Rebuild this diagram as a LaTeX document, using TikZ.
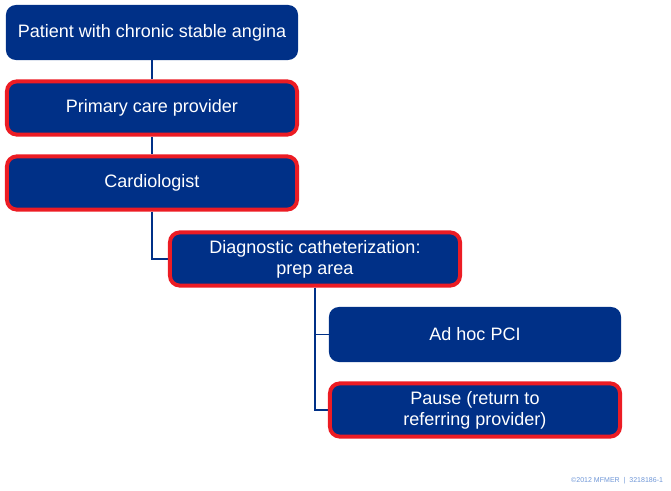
\documentclass[tikz,border=0pt]{standalone}
\usepackage{fontspec}
\setmainfont{Liberation Sans}
\usepackage{xcolor}
\usepackage{tikz}
\usetikzlibrary{positioning, calc, backgrounds}

\definecolor{boxblue}{RGB}{0,48,135}
\definecolor{alertred}{RGB}{236,28,36}
\definecolor{footblue}{RGB}{110,150,215}

\tikzset{
    plainbox/.style={fill=boxblue, rounded corners=7pt, text=white, align=center,
        minimum width=7.3cm, minimum height=1.375cm, inner sep=0pt,
        font=\fontsize{12.8pt}{14.8pt}\selectfont},
    redbox/.style={plainbox, draw=alertred, line width=2.8pt,
        minimum width=7.25cm, minimum height=1.33cm},
    link/.style={draw=boxblue, line width=1.1pt}
}

\begin{document}
\begin{tikzpicture}[x=0.025cm, y=-0.025cm]
    \useasboundingbox (0,0) rectangle (671,491);

    % Care pathway
    \node[plainbox] (patient) at (152,32.5) {Patient with chronic stable angina};
    \node[redbox] (pcp) at (152,108) {Primary care provider};
    \node[redbox] (cardio) at (152,183) {Cardiologist};
    \node[redbox] (cath) at (315,259) {Diagnostic catheterization:\\prep area};
    \node[plainbox] (pci) at (475,334.5) {Ad hoc PCI};
    \node[redbox] (pause) at (475,410) {Pause (return to\\referring provider)};

    \begin{scope}[on background layer]
        \draw[link] (patient) -- (pcp);
        \draw[link] (pcp) -- (cardio);
        \draw[link] (cardio.south) |- (cath.west);
        \draw[link] (cath.south) |- (pci.west);
        \draw[link] (cath.south) |- (pause.west);
    \end{scope}

    \node[anchor=east, text=footblue, font=\fontsize{5pt}{6pt}\selectfont] (foot) at (668,481)
        {\textcopyright2012 MFMER \;|\; 3218186-1};
\end{tikzpicture}
\end{document}
